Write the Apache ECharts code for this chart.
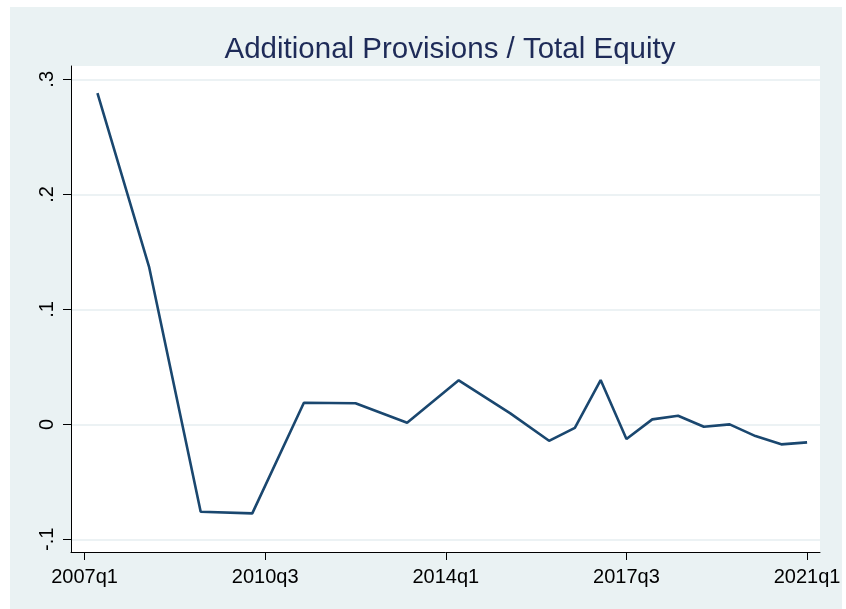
<!DOCTYPE html>
<html>
<head>
<meta charset="utf-8">
<script src="https://cdn.jsdelivr.net/npm/echarts@6/dist/echarts.min.js"></script>
<style>
  html, body { margin: 0; padding: 0; background: #fff; }
  #main { width: 846px; height: 609px; }
</style>
</head>
<body>
<div id="main"></div>
<script>
// data
var periods = ['2007q2', '2008q2', '2009q2', '2010q2', '2011q2', '2012q2', '2013q2', '2014q2',
    '2015q2', '2016q1', '2016q3', '2017q1', '2017q3', '2018q1', '2018q3', '2019q1',
    '2019q3', '2020q1', '2020q3', '2021q1'];
var ratio = [0.288, 0.137, -0.076, -0.0774, 0.0188, 0.0183, 0.0014, 0.0383,
    0.0095, -0.0143, -0.003, 0.0385, -0.0128, 0.0043, 0.0075, -0.0021,
    0.0, -0.0102, -0.0174, -0.0157];
var xTicks = ['2007q1', '2010q3', '2014q1', '2017q3', '2021q1'];
var yTicks = [-0.1, 0, 0.1, 0.2, 0.3];

// quarter string -> index counted from 2007q1
function qIndex(s) {
    var y = parseInt(s.slice(0, 4), 10);
    var q = parseInt(s.slice(5), 10);
    return (y - 2007) * 4 + (q - 1);
}
function qLabel(v) {
    var i = Math.round(v);
    return (2007 + Math.floor(i / 4)) + 'q' + (i % 4 + 1);
}
function yLabel(v) {
    if (Math.abs(v) < 1e-9) return '0';
    var s = String(Math.round(v * 10) / 10);
    return s.replace('0.', '.');
}

var points = periods.map(function (p, i) { return [qIndex(p), ratio[i]]; });

var dom = document.getElementById('main');
var myChart = echarts.init(dom);

var option = {
    backgroundColor: '#ffffff',
    animation: false,
    graphic: [
        {
            type: 'rect',
            z: -100,
            shape: { x: 10, y: 7, width: 832, height: 602 },
            style: { fill: '#eaf2f3' },
            silent: true
        }
    ],
    title: {
        text: 'Additional Provisions / Total Equity',
        left: 445,
        top: 30,
        textAlign: 'center',
        textStyle: {
            fontFamily: 'Liberation Sans, Arial, sans-serif',
            fontSize: 29.5,
            fontWeight: 'normal',
            color: '#1e2b58'
        }
    },
    grid: {
        left: 71,
        right: 26,
        top: 66,
        bottom: 57,
        show: true,
        backgroundColor: '#ffffff',
        borderWidth: 0
    },
    xAxis: {
        type: 'value',
        min: -1.05,
        max: 57,
        axisLine: { show: true, onZero: false, lineStyle: { color: '#000', width: 1 } },
        axisTick: {
            show: true,
            length: 8,
            customValues: xTicks.map(qIndex),
            lineStyle: { color: '#000', width: 1 }
        },
        axisLabel: {
            customValues: xTicks.map(qIndex),
            formatter: qLabel,
            margin: 15,
            fontFamily: 'Liberation Sans, Arial, sans-serif',
            fontSize: 20,
            color: '#000'
        },
        splitLine: { show: false }
    },
    yAxis: {
        type: 'value',
        min: -0.111,
        max: 0.3116,
        axisLine: { show: true, onZero: false, lineStyle: { color: '#000', width: 1 } },
        axisTick: {
            show: true,
            length: 8,
            customValues: yTicks,
            lineStyle: { color: '#000', width: 1 }
        },
        axisLabel: {
            customValues: yTicks,
            formatter: yLabel,
            rotate: 90,
            margin: 14,
            fontFamily: 'Liberation Sans, Arial, sans-serif',
            fontSize: 20,
            color: '#000'
        },
        splitLine: { show: true, lineStyle: { color: '#e6eef1', width: 1.5 } }
    },
    series: [
        {
            type: 'line',
            data: points,
            symbol: 'none',
            lineStyle: { color: '#1a476f', width: 2.6 }
        }
    ]
};

myChart.setOption(option, true);

window.addEventListener('resize', function () {
    myChart.resize();
});
</script>
</body>
</html>
